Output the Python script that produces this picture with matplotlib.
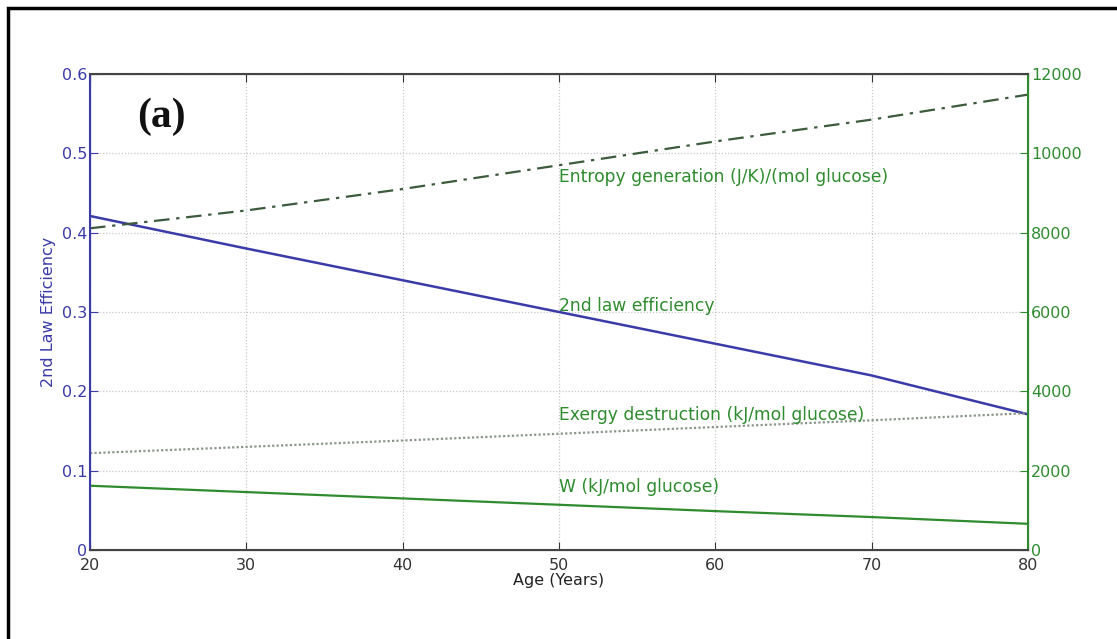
import numpy as np
from matplotlib import pyplot as plt
from matplotlib.patches import Rectangle

# Age (years)
age = [20, 30, 40, 50, 60, 70, 80]
efficiency = [0.421, 0.380, 0.340, 0.300, 0.260, 0.220, 0.171]
entropy_gen = [8110, 8560, 9100, 9700, 10300, 10850, 11480]
exergy_dest = [2440, 2600, 2760, 2930, 3100, 3270, 3450]
work = [1620, 1460, 1300, 1140, 980, 830, 660]

blue = "#3a3aa8"
green = "#2e8b2e"

fig = plt.figure(figsize=(11.17, 6.39), dpi=100)
ax = fig.add_axes([0.0806, 0.1393, 0.8397, 0.7449])
ax2 = ax.twinx()

ax.plot(age, efficiency, color=blue, lw=1.8)
ax2.plot(age, entropy_gen, color="#3d5a3d", lw=1.6, ls=(0, (7, 3, 1.5, 3)))
ax2.plot(age, exergy_dest, color="#8a968a", lw=1.6, ls=(0, (1, 1)))
ax2.plot(age, work, color=green, lw=1.6)

ax.set_xlim(20, 80)
ax.set_ylim(0, 0.6)
ax2.set_ylim(0, 12000)
ax.set_xticks(range(20, 81, 10))
ax.set_yticks(np.arange(0, 0.61, 0.1))
ax.set_yticklabels(["0", "0.1", "0.2", "0.3", "0.4", "0.5", "0.6"])
ax2.set_yticks(range(0, 12001, 2000))

ax.grid(True, color="#c8c8c8", ls=(0, (1, 1.5)), lw=0.9)

ax.tick_params(axis="y", colors=blue, labelsize=11.5, direction="in", length=6, pad=2)
ax.tick_params(axis="x", colors="#333333", labelsize=11.5, direction="in", length=6, pad=6)
ax2.tick_params(axis="y", colors=green, labelsize=11.5, direction="in", length=6, pad=2)
ax.tick_params(top=True, direction="in")

for s in ["top", "bottom"]:
    ax2.spines[s].set_color("#444444")
    ax2.spines[s].set_linewidth(1.5)
ax2.spines["left"].set_color(blue)
ax2.spines["left"].set_linewidth(1.5)
ax2.spines["right"].set_color(green)
ax2.spines["right"].set_linewidth(1.5)

ax.set_ylabel("2nd Law Efficiency", color=blue, fontsize=11.5, labelpad=4)
ax.set_xlabel("Age (Years)", color="#222222", fontsize=11.5, labelpad=0)

lab = dict(color=green, fontsize=12.3, va="center")
ax2.text(50, 9400, "Entropy generation (J/K)/(mol glucose)", **lab)
ax2.text(50, 6150, "2nd law efficiency", **lab)
ax2.text(50, 3400, "Exergy destruction (kJ/mol glucose)", **lab)
ax2.text(50, 1580, "W (kJ/mol glucose)", **lab)

ax.text(0.05, 0.91, "(a)", transform=ax.transAxes, fontsize=30, fontweight="bold",
        family="Liberation Serif", color="#111111", va="center")

fig.patches.append(Rectangle((8 / 1117, -0.1), 1.2, (639 - 8) / 639 + 0.1, transform=fig.transFigure,
                             fill=False, edgecolor="black", lw=2.5))

fig.savefig("out.png", dpi=100)
